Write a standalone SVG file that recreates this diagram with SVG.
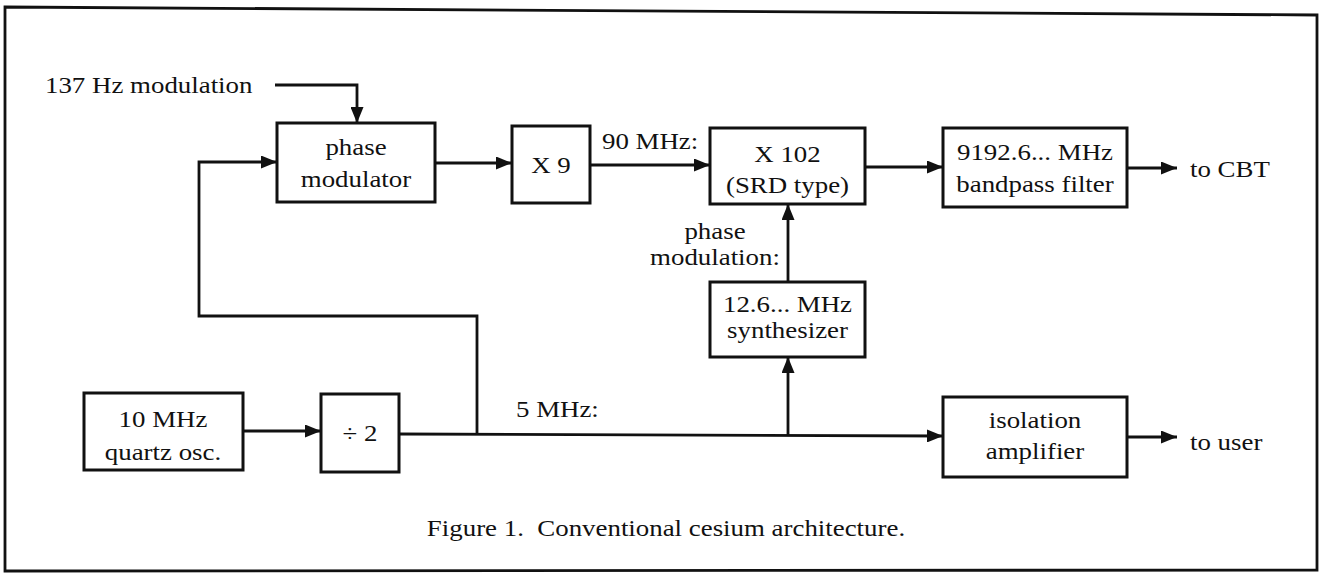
<svg xmlns="http://www.w3.org/2000/svg" width="1321" height="577" viewBox="0 0 1321 577">
<style>
  .box { fill: #fff; stroke: #111; stroke-width: 3; }
  .wire { fill: none; stroke: #111; stroke-width: 2.8; }
  .arr { marker-end: url(#ah); }
  text { font-family: "Liberation Serif", "Times New Roman", serif; font-size: 24px; fill: #111; }
  .c { text-anchor: middle; }
  .frame { fill: none; stroke: #111; stroke-width: 2.8; }
</style>
<defs>
  <marker id="ah" viewBox="0 0 16 13" refX="16" refY="6.5" markerWidth="16" markerHeight="13" markerUnits="userSpaceOnUse" orient="auto">
    <path d="M0,0 L16,6.5 L0,13 Z" fill="#111"/>
  </marker>
</defs>
<rect width="1321" height="577" fill="#fff"/>
<polygon class="frame" points="5,7 1317,15 1317,570 5,571"/>

<g id="connectors">
  <polyline class="wire arr" points="275,85 357,85 357,123"/>
  <polyline class="wire arr" points="477,434 477,316 199,316 199,162 277,162"/>
  <line class="wire arr" x1="435" y1="163" x2="512" y2="163"/>
  <line class="wire arr" x1="590" y1="165" x2="710" y2="165"/>
  <line class="wire arr" x1="865" y1="167" x2="943" y2="167"/>
  <line class="wire arr" x1="1127" y1="168" x2="1177" y2="168"/>
  <line class="wire arr" x1="788" y1="282" x2="788" y2="204"/>
  <line class="wire arr" x1="788" y1="435" x2="788" y2="357"/>
  <line class="wire arr" x1="243" y1="431" x2="321" y2="431"/>
  <line class="wire arr" x1="399" y1="434" x2="943" y2="436"/>
  <line class="wire arr" x1="1127" y1="437" x2="1177" y2="437"/>
</g>

<g id="lbl-137hz">
  <text transform="scale(1.12 1)" x="40.18" y="93">137 Hz modulation</text>
</g>

<g id="phase-modulator">
  <rect class="box" x="277" y="123" width="158" height="79"/>
  <text class="c" transform="scale(1.12 1)" x="317.86" y="155">phase</text>
  <text class="c" transform="scale(1.12 1)" x="317.86" y="187">modulator</text>
</g>

<g id="x9">
  <rect class="box" x="512" y="126" width="78" height="77"/>
  <text class="c" transform="scale(1.12 1)" x="491.96" y="173">X 9</text>
</g>

<g id="lbl-90mhz">
  <text transform="scale(1.12 1)" x="537.5" y="149">90 MHz:</text>
</g>

<g id="x102">
  <rect class="box" x="710" y="128" width="155" height="76"/>
  <text class="c" transform="scale(1.12 1)" x="703.13" y="162">X 102</text>
  <text class="c" transform="scale(1.12 1)" x="703.13" y="193">(SRD type)</text>
</g>

<g id="bandpass-filter">
  <rect class="box" x="943" y="128" width="184" height="79"/>
  <text class="c" transform="scale(1.12 1)" x="924.11" y="160">9192.6... MHz</text>
  <text class="c" transform="scale(1.12 1)" x="924.11" y="192">bandpass filter</text>
</g>

<g id="lbl-cbt">
  <text transform="scale(1.12 1)" x="1062.5" y="177">to CBT</text>
</g>

<g id="lbl-phase-modulation">
  <text class="c" transform="scale(1.12 1)" x="638.39" y="239">phase</text>
  <text class="c" transform="scale(1.12 1)" x="638.39" y="265">modulation:</text>
</g>

<g id="synthesizer">
  <rect class="box" x="710" y="282" width="155" height="75"/>
  <text class="c" transform="scale(1.12 1)" x="703.13" y="312">12.6... MHz</text>
  <text class="c" transform="scale(1.12 1)" x="703.13" y="338">synthesizer</text>
</g>

<g id="quartz-osc">
  <rect class="box" x="84" y="393" width="159" height="77"/>
  <text class="c" transform="scale(1.12 1)" x="145.54" y="427">10 MHz</text>
  <text class="c" transform="scale(1.12 1)" x="145.54" y="460">quartz osc.</text>
</g>

<g id="divide-2">
  <rect class="box" x="321" y="394" width="78" height="78"/>
  <text class="c" transform="scale(1.12 1)" x="321.43" y="441">÷ 2</text>
</g>

<g id="lbl-5mhz">
  <text transform="scale(1.12 1)" x="460.71" y="417">5 MHz:</text>
</g>

<g id="isolation-amplifier">
  <rect class="box" x="943" y="397" width="184" height="80"/>
  <text class="c" transform="scale(1.12 1)" x="924.11" y="428">isolation</text>
  <text class="c" transform="scale(1.12 1)" x="924.11" y="459">amplifier</text>
</g>

<g id="lbl-user">
  <text transform="scale(1.12 1)" x="1062.5" y="450">to user</text>
</g>

<g id="caption">
  <text class="c" transform="scale(1.12 1)" x="594.64" y="536" style="white-space:pre">Figure 1.  Conventional cesium architecture.</text>
</g>
</svg>
